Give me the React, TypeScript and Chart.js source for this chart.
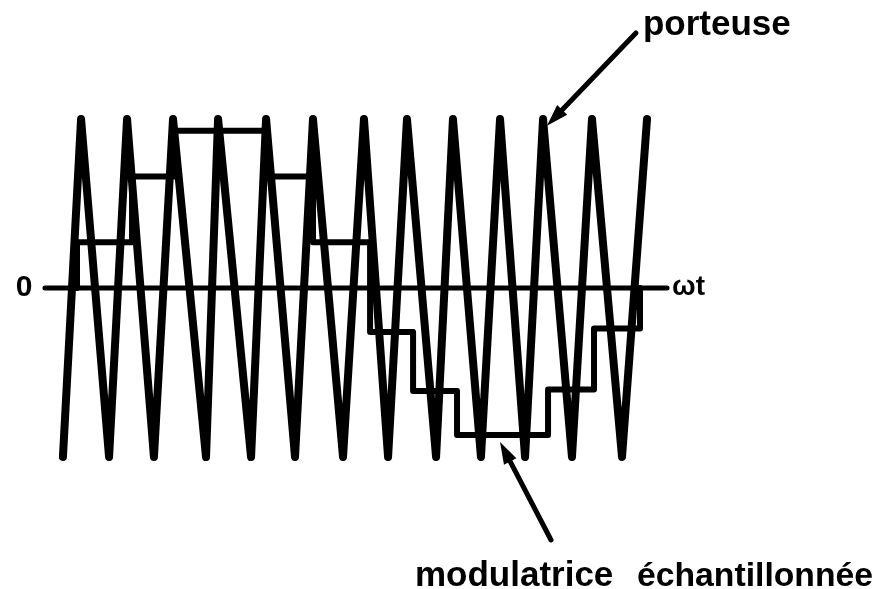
import { useEffect, useRef } from "react";
import { Chart, registerables } from "chart.js";

Chart.register(...registerables);

// x: angle of the modulating wave in degrees (one full period 0..360)
// Carrier (porteuse) turning points: angle and level (-1 bottom, +1 top)
const carrierAngles = [
  -9.0, 2.6, 20.5, 32.0, 49.2, 61.4, 82.5, 90.2, 111.3, 120.9, 139.4, 150.9,
  170.1, 183.5, 198.9, 211.0, 229.6, 240.4, 258.3, 270.5, 286.5, 298.0, 316.5,
  329.3, 348.5, 364.5,
];
const carrierLevels = [
  -1, 1, -1, 1, -1, 1, -1, 1, -1, 1, -1, 1, -1, 1, -1, 1, -1, 1, -1, 1, -1, 1,
  -1, 1, -1, 1,
];

// Sampled modulating signal (modulatrice échantillonnée)
const sampleEdges = [0, 35.2, 62.7, 121.5, 150.9, 187.4, 214.9, 243.0, 301.2, 330.6, 360];
const sampleLevels = [0.27, 0.66, 0.93, 0.66, 0.27, -0.26, -0.61, -0.87, -0.6, -0.24];

// Horizontal ωt axis extent
const axisAngles = [-20.5, 377.3];
const axisLevels = [0, 0];

// Text labels and arrows
const labelTexts = ["0", "ωt", "porteuse", "modulatrice", "échantillonnée"];
const labelAngles = [-33.9, 380.5, 361.9, 216.1, 358.1];
const labelLevels = [0, -0.04, 1.497, -1.763, -1.763];

const arrowTails = [
  { x: 357.4, y: 1.509 },
  { x: 303.1, y: -1.491 },
];
const arrowTips = [
  { x: 300.5, y: 0.96 },
  { x: 270.5, y: -0.911 },
];

const INK = "#000000";

const annotations = {
  id: "annotations",
  afterDatasetsDraw(chart: any) {
    const { ctx, scales } = chart;
    const xs = scales.x;
    const ys = scales.y;
    ctx.save();
    ctx.fillStyle = INK;
    ctx.strokeStyle = INK;

    // arrows
    for (let i = 0; i < arrowTips.length; i++) {
      const tx = xs.getPixelForValue(arrowTails[i].x);
      const ty = ys.getPixelForValue(arrowTails[i].y);
      const px = xs.getPixelForValue(arrowTips[i].x);
      const py = ys.getPixelForValue(arrowTips[i].y);
      const ang = Math.atan2(py - ty, px - tx);
      const headLen = 22;
      const headHalf = 7;
      const bx = px - headLen * Math.cos(ang);
      const by = py - headLen * Math.sin(ang);
      ctx.lineWidth = 5;
      ctx.lineCap = "round";
      ctx.beginPath();
      ctx.moveTo(tx, ty);
      ctx.lineTo(bx + 4 * Math.cos(ang), by + 4 * Math.sin(ang));
      ctx.stroke();
      ctx.beginPath();
      ctx.moveTo(px, py);
      ctx.lineTo(bx + headHalf * Math.sin(ang), by - headHalf * Math.cos(ang));
      ctx.lineTo(bx - headHalf * Math.sin(ang), by + headHalf * Math.cos(ang));
      ctx.closePath();
      ctx.fill();
    }

    // labels
    const fontFam = "'Liberation Sans', Arial, sans-serif";
    for (let i = 0; i < labelTexts.length; i++) {
      const x = xs.getPixelForValue(labelAngles[i]);
      const y = ys.getPixelForValue(labelLevels[i]);
      const t = labelTexts[i];
      if (t === "0") {
        ctx.font = `bold 30px ${fontFam}`;
        ctx.textAlign = "center";
        ctx.textBaseline = "middle";
        ctx.fillText(t, x, y);
      } else if (t === "ωt") {
        ctx.font = `bold 28px ${fontFam}`;
        ctx.textAlign = "left";
        ctx.textBaseline = "alphabetic";
        ctx.fillText(t, x, y);
      } else if (t === "échantillonnée") {
        ctx.font = `bold 34px ${fontFam}`;
        ctx.textAlign = "left";
        ctx.textBaseline = "alphabetic";
        ctx.fillText(t, x, y, 236);
      } else {
        ctx.font = `bold 35px ${fontFam}`;
        ctx.textAlign = "left";
        ctx.textBaseline = "alphabetic";
        ctx.fillText(t, x, y);
      }
    }
    ctx.restore();
  },
};

export default function App() {
  const canvasRef = useRef<HTMLCanvasElement | null>(null);

  useEffect(() => {
    if (!canvasRef.current) return;

    const carrierData = carrierAngles.map((x, i) => ({ x, y: carrierLevels[i] }));

    const stepData: { x: number; y: number }[] = [{ x: sampleEdges[0], y: 0 }];
    for (let i = 0; i < sampleLevels.length; i++) {
      stepData.push({ x: sampleEdges[i], y: sampleLevels[i] });
      stepData.push({ x: sampleEdges[i + 1], y: sampleLevels[i] });
    }
    stepData.push({ x: sampleEdges[sampleEdges.length - 1], y: 0 });

    const axisData = axisAngles.map((x, i) => ({ x, y: axisLevels[i] }));

    const pxPerDeg = 563 / 360;
    const chart = new Chart(canvasRef.current, {
      type: "scatter",
      data: {
        datasets: [
          {
            label: "porteuse",
            data: carrierData,
            showLine: true,
            borderColor: INK,
            borderWidth: 8,
            borderJoinStyle: "round",
            borderCapStyle: "round",
            pointRadius: 0,
            tension: 0,
          },
          {
            label: "modulatrice échantillonnée",
            data: stepData,
            showLine: true,
            borderColor: INK,
            borderWidth: 6,
            borderJoinStyle: "round",
            borderCapStyle: "round",
            pointRadius: 0,
            tension: 0,
          },
          {
            label: "axe",
            data: axisData,
            showLine: true,
            borderColor: INK,
            borderWidth: 5,
            borderCapStyle: "round",
            pointRadius: 0,
          },
        ],
      },
      options: {
        animation: false,
        responsive: false,
        events: [],
        layout: { padding: 0 },
        plugins: {
          legend: { display: false },
          tooltip: { enabled: false },
        },
        scales: {
          x: {
            type: "linear",
            display: false,
            min: -77 / pxPerDeg,
            max: (887 - 77) / pxPerDeg,
          },
          y: {
            type: "linear",
            display: false,
            min: -301 / 169,
            max: 288 / 169,
          },
        },
      } as any,
      plugins: [annotations],
    });

    return () => chart.destroy();
  }, []);

  return (
    <div style={{ position: "fixed", left: 0, top: 0, width: 887, height: 589, background: "#fff" }}>
      <canvas ref={canvasRef} width={887} height={589} style={{ display: "block" }} />
    </div>
  );
}
